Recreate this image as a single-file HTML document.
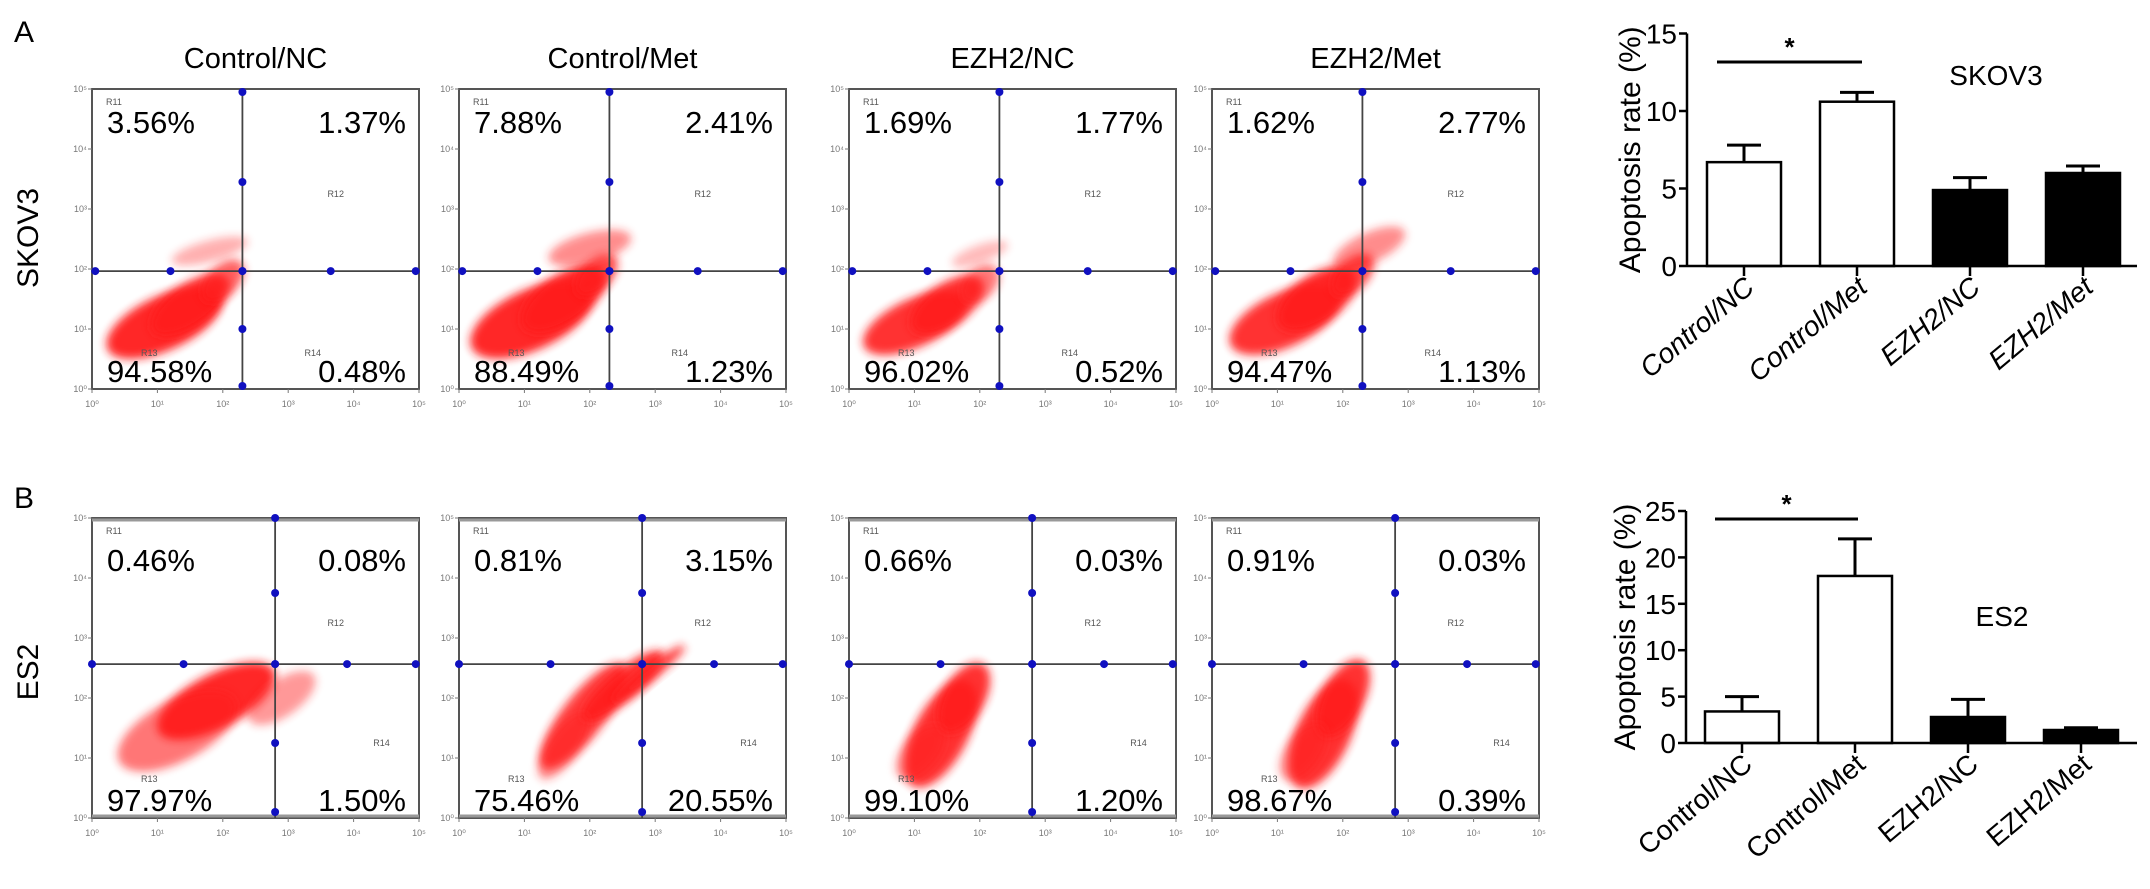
<!DOCTYPE html>
<html><head><meta charset="utf-8">
<style>
html,body{margin:0;padding:0;background:#fff;}
svg{display:block;font-family:"Liberation Sans",Arial,sans-serif;}
</style></head>
<body>
<svg id="fig" width="2150" height="889" viewBox="0 0 2150 889" xmlns="http://www.w3.org/2000/svg">
<defs>
<filter id="blur" x="-50%" y="-50%" width="200%" height="200%"><feGaussianBlur stdDeviation="4.5"/></filter>
</defs>
</svg>
<script>
// ---- bar chart data ----
const categories = ["Control/NC","Control/Met","EZH2/NC","EZH2/Met"];
const barFill = ["#fff","#fff","#000","#000"];
const skov3Means = [6.7, 10.6, 4.9, 6.0];
const skov3Err = [1.1, 0.6, 0.8, 0.45];
const skov3Ticks = [0, 5, 10, 15];
const es2Means = [3.4, 18.0, 2.8, 1.4];
const es2Err = [1.6, 4.0, 1.9, 0.25];
const es2Ticks = [0, 5, 10, 15, 20, 25];
// ---- flow cytometry quadrant percentages (UL, UR, LL, LR) ----
const flowTitles = ["Control/NC","Control/Met","EZH2/NC","EZH2/Met"];
const skov3Quad = [["3.56%","1.37%","94.58%","0.48%"],["7.88%","2.41%","88.49%","1.23%"],["1.69%","1.77%","96.02%","0.52%"],["1.62%","2.77%","94.47%","1.13%"]];
const es2Quad = [["0.46%","0.08%","97.97%","1.50%"],["0.81%","3.15%","75.46%","20.55%"],["0.66%","0.03%","99.10%","1.20%"],["0.91%","0.03%","98.67%","0.39%"]];
const flowTicks = ["10\u2070","10\u00b9","10\u00b2","10\u00b3","10\u2074","10\u2075"];

const NS = "http://www.w3.org/2000/svg";
const svg = document.getElementById('fig');
function mk(tag, attrs, parent, txt){
  const e = document.createElementNS(NS, tag);
  for (const k in attrs) e.setAttribute(k, attrs[k]);
  if (txt !== undefined) e.textContent = txt;
  (parent || svg).appendChild(e);
  return e;
}

let t;
t = mk('text',{x:14,y:42,'font-size':30}, svg, 'A');


t = mk('text',{x:14,y:508,'font-size':30}, svg, 'B');


t = mk('text',{x:0,y:0,'font-size':30,'text-anchor':'middle',transform:'translate(38,238) rotate(-90)'}, svg, 'SKOV3');


t = mk('text',{x:0,y:0,'font-size':30,'text-anchor':'middle',transform:'translate(38,672) rotate(-90)'}, svg, 'ES2');



const panelX = [92, 459, 849, 1212];
const PW = 327, PH = 300;
const rows = [
  {y:89, quad:skov3Quad, vx:0.46, hy:0.607, vd:[0.01,0.31,0.607,0.80,0.99], hd:[0.01,0.24,0.46,0.73,0.99], name:'skov3'},
  {y:518, quad:es2Quad, vx:0.56, hy:0.487, vd:[0.0,0.25,0.487,0.75,0.98], hd:[0.0,0.28,0.56,0.78,0.99], name:'es2'}
];
const cloudsA = [
  [[0.22,0.78,0.19,0.09,-25,0.95],[0.30,0.72,0.14,0.07,-35,0.9],[0.40,0.64,0.08,0.05,-45,0.7],[0.36,0.54,0.12,0.035,-15,0.35]],
  [[0.22,0.77,0.20,0.10,-25,0.95],[0.32,0.70,0.15,0.08,-35,0.95],[0.42,0.62,0.08,0.05,-45,0.8],[0.40,0.53,0.13,0.05,-15,0.5]],
  [[0.20,0.78,0.17,0.08,-25,0.9],[0.30,0.72,0.13,0.07,-35,0.9],[0.40,0.65,0.07,0.05,-45,0.6],[0.40,0.55,0.09,0.03,-20,0.3]],
  [[0.22,0.77,0.18,0.09,-25,0.9],[0.32,0.70,0.14,0.08,-35,0.95],[0.43,0.62,0.08,0.05,-45,0.8],[0.48,0.53,0.12,0.05,-25,0.5]]
];
const cloudsB = [
  [[0.38,0.61,0.20,0.09,-28,0.95],[0.26,0.71,0.20,0.10,-28,0.6],[0.58,0.60,0.12,0.06,-35,0.45]],
  [[0.38,0.66,0.20,0.07,-52,0.85],[0.50,0.56,0.16,0.05,-40,0.9],[0.58,0.52,0.14,0.025,-38,0.8],[0.32,0.76,0.12,0.05,-55,0.5]],
  [[0.28,0.72,0.18,0.09,-62,0.9],[0.35,0.60,0.12,0.07,-60,0.9],[0.22,0.78,0.10,0.06,-50,0.5]],
  [[0.34,0.72,0.18,0.09,-65,0.9],[0.40,0.60,0.13,0.07,-62,0.9],[0.28,0.78,0.10,0.06,-55,0.5]]
];

rows.forEach((r, ri) => {
  panelX.forEach((px, pi) => {
    const g = mk('g', {});
    
    
    if (ri === 0) {
      const tt = mk('text',{x:px+PW/2,y:68,'font-size':29,'text-anchor':'middle'}, g, flowTitles[pi]);
      
      
    }
    const py = r.y;
    const clouds = (ri === 0 ? cloudsA : cloudsB)[pi];
    clouds.forEach(c => {
      const e = mk('ellipse',{cx:px+c[0]*PW, cy:py+c[1]*PH, rx:c[2]*PW, ry:c[3]*PH, fill:'#ff1a1a', opacity:c[5], filter:'url(#blur)', transform:`rotate(${c[4]} ${px+c[0]*PW} ${py+c[1]*PH})`}, g);
      
      
    });
    const fr = mk('rect',{x:px,y:py,width:PW,height:PH,fill:'none',stroke:'#555','stroke-width':2}, g);
    
    
    if (ri === 1) {
      mk('line',{x1:px,y1:py+2,x2:px+PW,y2:py+2,stroke:'#999','stroke-width':3}, g);
      mk('line',{x1:px,y1:py+PH-2,x2:px+PW,y2:py+PH-2,stroke:'#999','stroke-width':3}, g);
    }
    const vx = px + r.vx*PW, hy = py + r.hy*PH;
    const vl = mk('line',{x1:vx,y1:py,x2:vx,y2:py+PH,stroke:'#444','stroke-width':1.8}, g);
    
    
    const hl = mk('line',{x1:px,y1:hy,x2:px+PW,y2:hy,stroke:'#444','stroke-width':1.8}, g);
    
    
    r.vd.forEach(f => { const d = mk('circle',{cx:vx,cy:py+f*PH,r:4,fill:'#1010c0'}, g);   });
    r.hd.forEach(f => { const d = mk('circle',{cx:px+f*PW,cy:hy,r:4,fill:'#1010c0'}, g);   });
    flowTicks.forEach((lab, i) => {
      const yy = py + PH - i*PH/5;
      mk('line',{x1:px-4,y1:yy,x2:px,y2:yy,stroke:'#777','stroke-width':1}, g);
      const ty = mk('text',{x:px-5,y:yy+3,'font-size':9,fill:'#777','text-anchor':'end'}, g, lab);
      
      
      const xx = px + i*PW/5;
      mk('line',{x1:xx,y1:py+PH,x2:xx,y2:py+PH+4,stroke:'#777','stroke-width':1}, g);
      const tx = mk('text',{x:xx,y:py+PH+18,'font-size':9,fill:'#777','text-anchor':'middle'}, g, lab);
      
      
    });
    [['R11',px+14,py+16],['R12',px+PW*0.72,py+PH*0.36],['R13',px+PW*0.15,py+PH*(ri?0.88:0.89)],['R14',px+PW*(ri?0.86:0.65),py+PH*(ri?0.76:0.89)]].forEach(a=>{
      const rl = mk('text',{x:a[1],y:a[2],'font-size':9,fill:'#555'}, g, a[0]);
      
      
    });
    const q = r.quad[pi];
    const fs = 31;
    const topY = ri===0 ? py+44 : py+53, botY = py+PH-7;
    const lx = px+15, rx = px+PW-13;
    [[q[0],lx,topY,'start','upper-left'],[q[1],rx,topY,'end','upper-right'],[q[2],lx,botY,'start','lower-left'],[q[3],rx,botY,'end','lower-right']].forEach(a=>{
      const el = mk('text',{x:a[1],y:a[2],'font-size':fs,'text-anchor':a[3]}, g, a[0]);
      
      
    });
  });
});

function barChart(cfg){
  const g = mk('g',{});
  
  
  const yScale = v => cfg.base - v*cfg.ppu;
  const xCenter = i => cfg.x0 + cfg.off + i*cfg.step;
  const topV = cfg.ticks[cfg.ticks.length-1];
  cfg.means.forEach((m,i)=>{
    const cx = xCenter(i);
    const b = mk('rect',{x:cx-37,y:yScale(m),width:74,height:cfg.base-yScale(m),fill:barFill[i],stroke:'#000','stroke-width':2.5}, g);
    
    
    const e = yScale(m + cfg.err[i]);
    const eb = mk('path',{d:`M${cx},${yScale(m)} V${e} M${cx-17},${e} H${cx+17}`,stroke:'#000','stroke-width':3,fill:'none'}, g);
    
    
    mk('line',{x1:cx,y1:cfg.base,x2:cx,y2:cfg.base+10,stroke:'#000','stroke-width':2.5}, g);
    const lab = mk('text',{x:0,y:0,'font-size':28,'text-anchor':'end',transform:`translate(${cx+12},${cfg.base+24}) rotate(-40)`}, g, categories[i]);
    if (cfg.italic) lab.setAttribute('font-style','italic');
    
    
  });
  const ya = mk('line',{x1:cfg.x0,y1:yScale(topV),x2:cfg.x0,y2:cfg.base,stroke:'#000','stroke-width':2.5}, g);
  
  
  const xa = mk('line',{x1:cfg.x0,y1:cfg.base,x2:2137,y2:cfg.base,stroke:'#000','stroke-width':2.5}, g);
  
  
  cfg.ticks.forEach(v=>{
    mk('line',{x1:cfg.x0-8,y1:yScale(v),x2:cfg.x0,y2:yScale(v),stroke:'#000','stroke-width':2.5}, g);
    const tl = mk('text',{x:cfg.x0-10,y:yScale(v)+10,'font-size':28,'text-anchor':'end'}, g, String(v));
    
    
  });
  const yl = mk('text',{x:0,y:0,'font-size':30,'text-anchor':'middle',transform:`translate(${cfg.ylx},${(cfg.base+yScale(topV))/2}) rotate(-90)`}, g, 'Apoptosis rate (%)');
  
  
  const sl = mk('line',{x1:cfg.sigX1,y1:cfg.sigY,x2:cfg.sigX2,y2:cfg.sigY,stroke:'#000','stroke-width':3}, g);
  
  
  const st = mk('text',{x:(cfg.sigX1+cfg.sigX2)/2,y:cfg.sigY-6,'font-size':26,'font-weight':'bold','text-anchor':'middle'}, g, '*');
  
  
  const cl = mk('text',{x:cfg.labX,y:cfg.labY,'font-size':28,'text-anchor':'middle'}, g, cfg.label);
  
  
}
barChart({name:'skov3', means:skov3Means, err:skov3Err, ticks:skov3Ticks, base:266, ppu:15.5, x0:1687, off:57, step:113, ylx:1640, sigX1:1717, sigX2:1862, sigY:62, labX:1996, labY:85, label:'SKOV3', italic:true});
barChart({name:'es2', means:es2Means, err:es2Err, ticks:es2Ticks, base:743, ppu:9.28, x0:1686, off:56, step:113, ylx:1635, sigX1:1715, sigX2:1858, sigY:519, labX:2002, labY:626, label:'ES2', italic:false});
</script>
</body></html>
